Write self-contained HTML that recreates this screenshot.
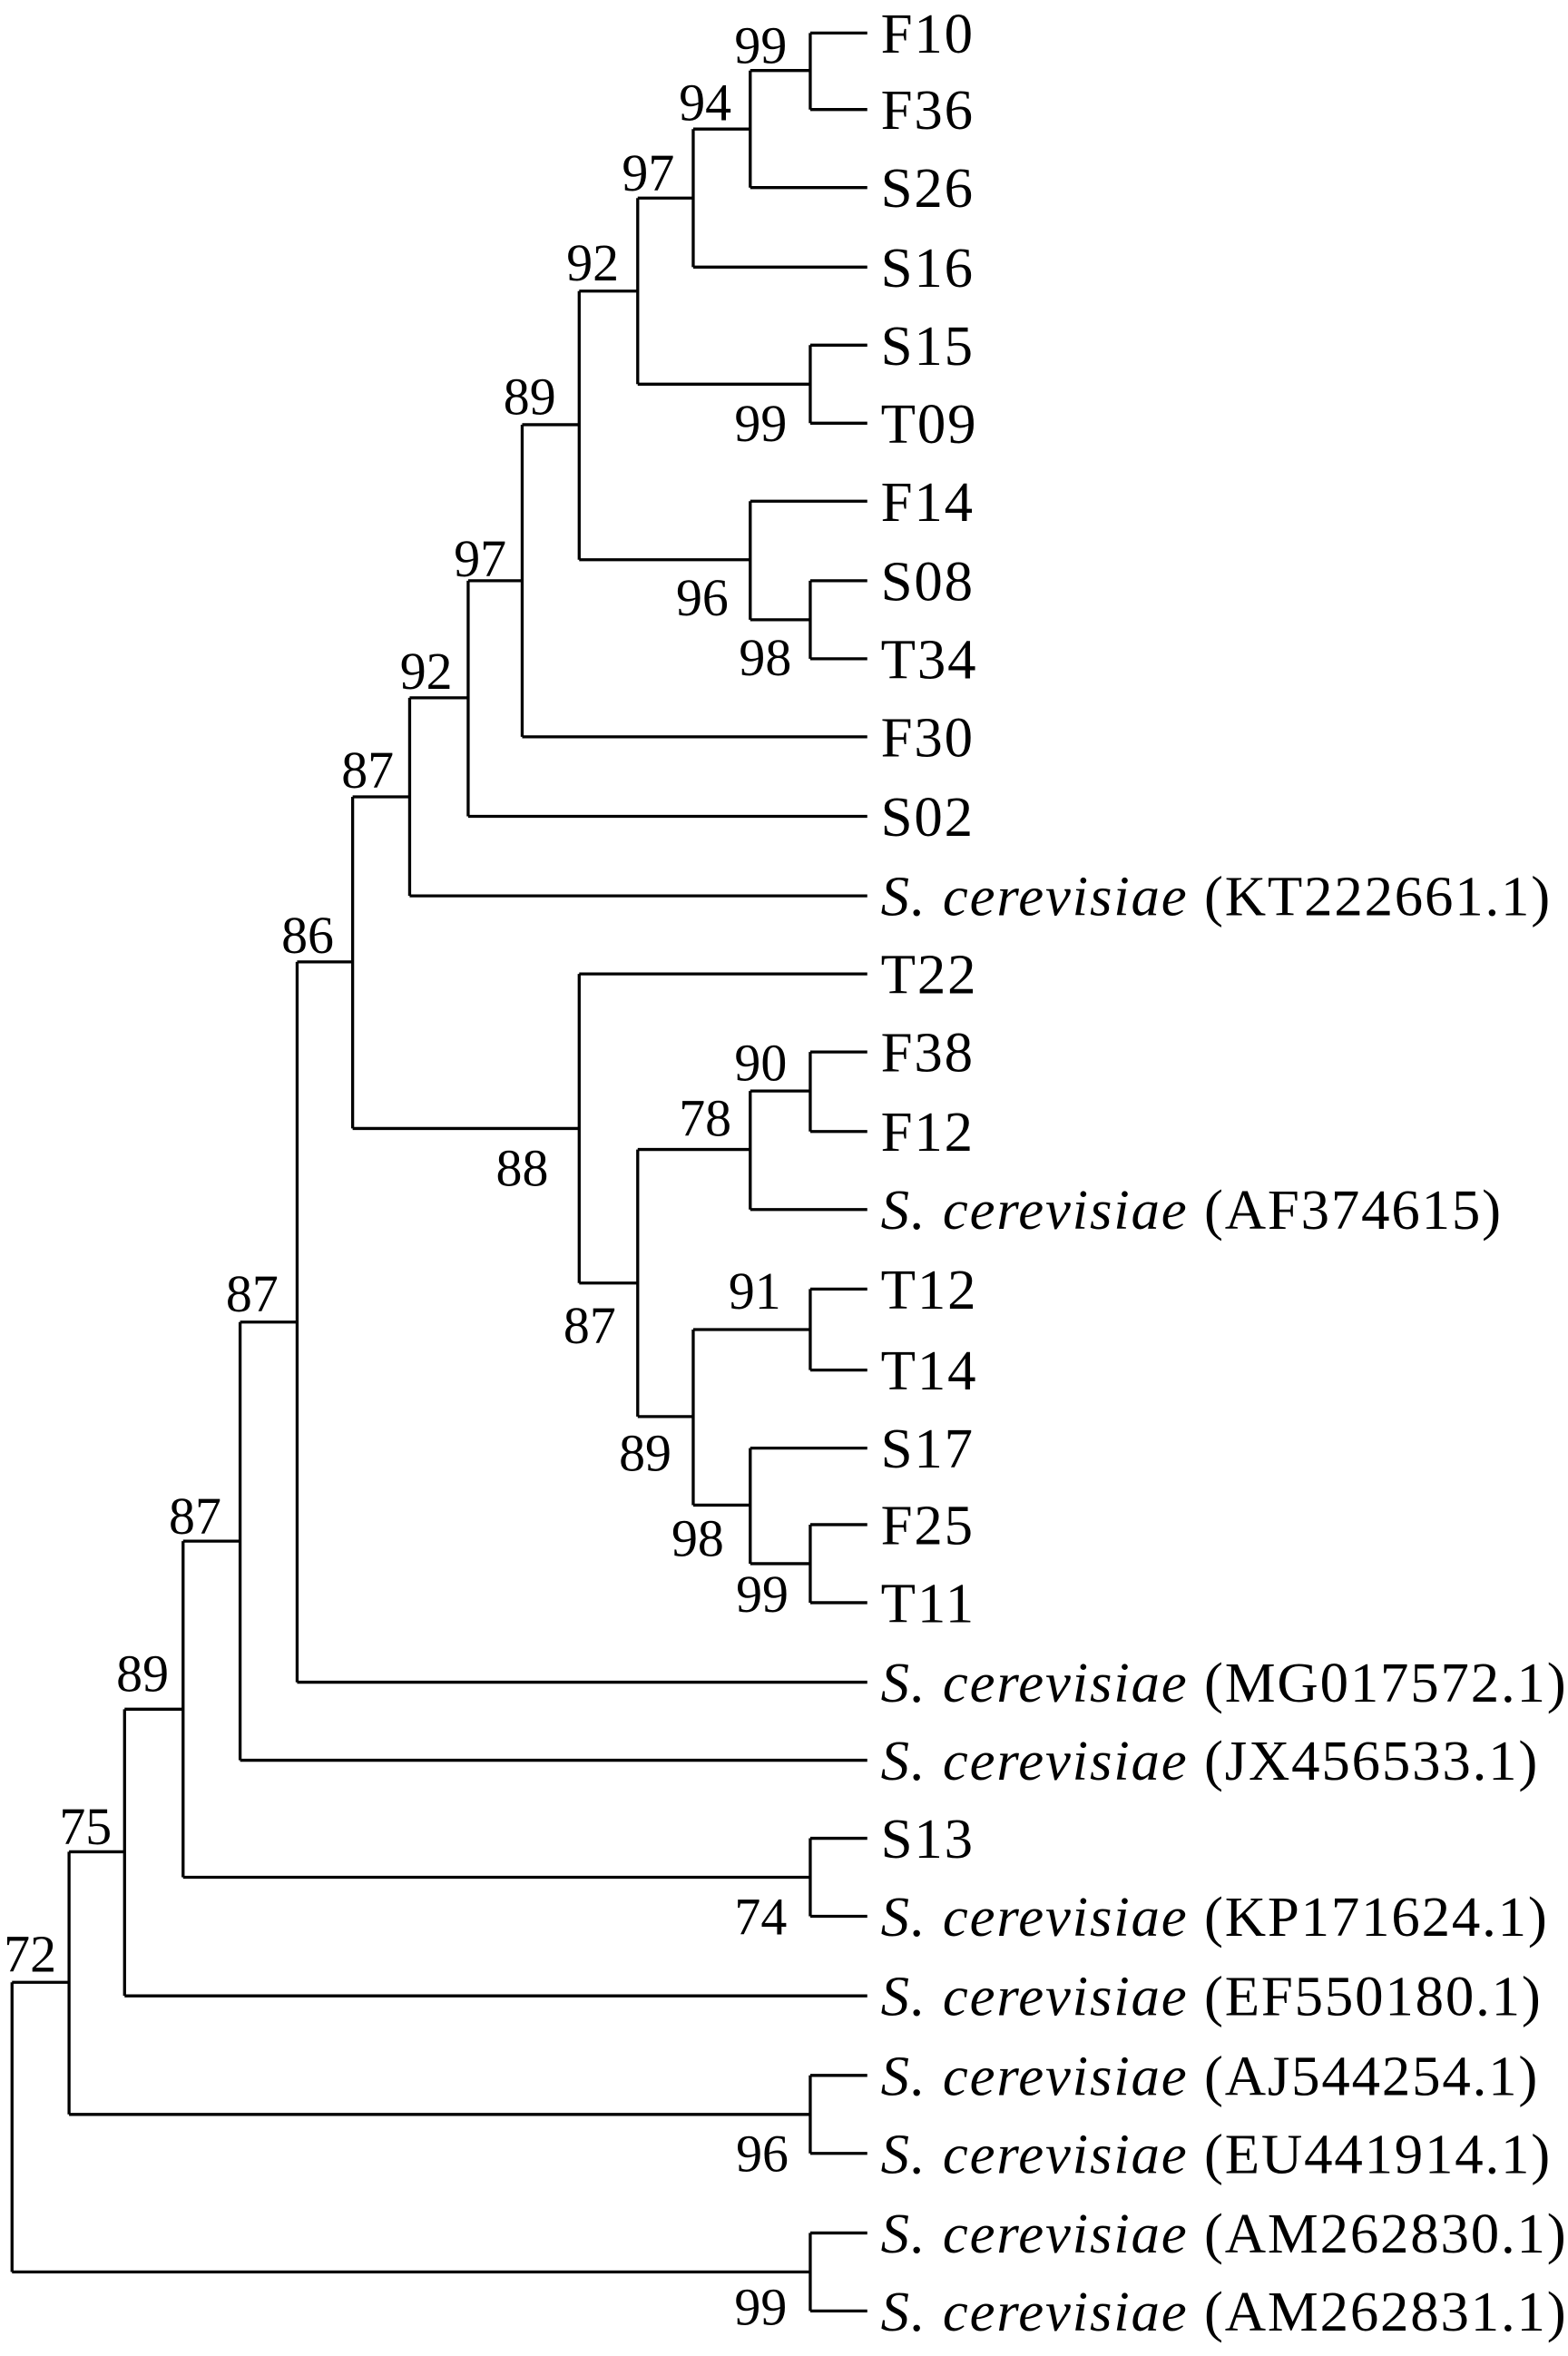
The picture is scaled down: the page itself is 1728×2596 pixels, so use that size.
<!DOCTYPE html>
<html><head><meta charset="utf-8"><style>html,body{margin:0;padding:0;background:#fff}svg{display:block}</style></head>
<body>
<svg width="1728" height="2596" viewBox="0 0 1045 1570" xmlns="http://www.w3.org/2000/svg" font-family="Liberation Serif, serif">
<g stroke="#000" stroke-width="2" fill="none">
<path d="M540 22V73M540 22H578M540 73H578"/>
<path d="M500 47V125M500 47H540M500 125H578"/>
<path d="M462 86V178M462 86H500M462 178H578"/>
<path d="M540 230V282M540 230H578M540 282H578"/>
<path d="M425 132V256M425 132H462M425 256H540"/>
<path d="M540 387V439M540 387H578M540 439H578"/>
<path d="M500 334V413M500 334H578M500 413H540"/>
<path d="M386 194V373M386 194H425M386 373H500"/>
<path d="M348 283V491M348 283H386M348 491H578"/>
<path d="M312 387V544M312 387H348M312 544H578"/>
<path d="M273 465V597M273 465H312M273 597H578"/>
<path d="M540 701V754M540 701H578M540 754H578"/>
<path d="M500 727V806M500 727H540M500 806H578"/>
<path d="M540 859V913M540 859H578M540 913H578"/>
<path d="M540 1016V1068M540 1016H578M540 1068H578"/>
<path d="M500 965V1042M500 965H578M500 1042H540"/>
<path d="M462 886V1003M462 886H540M462 1003H500"/>
<path d="M425 766V944M425 766H500M425 944H462"/>
<path d="M386 649V855M386 649H578M386 855H425"/>
<path d="M235 531V752M235 531H273M235 752H386"/>
<path d="M198 641V1121M198 641H235M198 1121H578"/>
<path d="M160 881V1173M160 881H198M160 1173H578"/>
<path d="M540 1225V1277M540 1225H578M540 1277H578"/>
<path d="M122 1027V1251M122 1027H160M122 1251H540"/>
<path d="M83 1139V1330M83 1139H122M83 1330H578"/>
<path d="M540 1383V1435M540 1383H578M540 1435H578"/>
<path d="M46 1234V1409M46 1234H83M46 1409H540"/>
<path d="M540 1488V1540M540 1488H578M540 1540H578"/>
<path d="M8 1321V1514M8 1321H46M8 1514H540"/>
</g>
<g font-size="38" letter-spacing="1.1" fill="#000">
<text x="587" y="35">F10</text><text x="587" y="86">F36</text><text x="587" y="138">S26</text><text x="587" y="191">S16</text>
<text x="587" y="243">S15</text><text x="587" y="295">T09</text><text x="587" y="347">F14</text><text x="587" y="400">S08</text>
<text x="587" y="452">T34</text><text x="587" y="504">F30</text><text x="587" y="557">S02</text>
<text x="587" y="610"><tspan font-style="italic">S. cerevisiae</tspan> (KT222661.1)</text>
<text x="587" y="662">T22</text><text x="587" y="714">F38</text><text x="587" y="767">F12</text>
<text x="587" y="819"><tspan font-style="italic">S. cerevisiae</tspan> (AF374615)</text>
<text x="587" y="872">T12</text><text x="587" y="926">T14</text><text x="587" y="978">S17</text><text x="587" y="1029">F25</text><text x="587" y="1081">T11</text>
<text x="587" y="1134"><tspan font-style="italic">S. cerevisiae</tspan> (MG017572.1)</text>
<text x="587" y="1186"><tspan font-style="italic">S. cerevisiae</tspan> (JX456533.1)</text>
<text x="587" y="1238">S13</text>
<text x="587" y="1290"><tspan font-style="italic">S. cerevisiae</tspan> (KP171624.1)</text>
<text x="587" y="1343"><tspan font-style="italic">S. cerevisiae</tspan> (EF550180.1)</text>
<text x="587" y="1396"><tspan font-style="italic">S. cerevisiae</tspan> (AJ544254.1)</text>
<text x="587" y="1448"><tspan font-style="italic">S. cerevisiae</tspan> (EU441914.1)</text>
<text x="587" y="1501"><tspan font-style="italic">S. cerevisiae</tspan> (AM262830.1)</text>
<text x="587" y="1553"><tspan font-style="italic">S. cerevisiae</tspan> (AM262831.1)</text>
</g>
<g font-size="35" fill="#000" text-anchor="middle">
<text x="507" y="42">99</text><text x="470" y="80">94</text><text x="432" y="127">97</text><text x="507" y="294">99</text>
<text x="395" y="187">92</text><text x="510" y="450">98</text><text x="468" y="410">96</text><text x="353" y="276">89</text>
<text x="320" y="384">97</text><text x="284" y="459">92</text><text x="245" y="525">87</text>
<text x="507" y="720">90</text><text x="470" y="757">78</text><text x="503" y="872">91</text><text x="508" y="1074">99</text>
<text x="465" y="1037">98</text><text x="430" y="980">89</text><text x="393" y="895">87</text><text x="348" y="790">88</text>
<text x="205" y="635">86</text><text x="168" y="874">87</text><text x="130" y="1022">87</text><text x="507" y="1289">74</text>
<text x="95" y="1127">89</text><text x="57" y="1229">75</text><text x="508" y="1447">96</text><text x="20" y="1314">72</text>
<text x="507" y="1549">99</text>
</g>
</svg>
</body></html>
